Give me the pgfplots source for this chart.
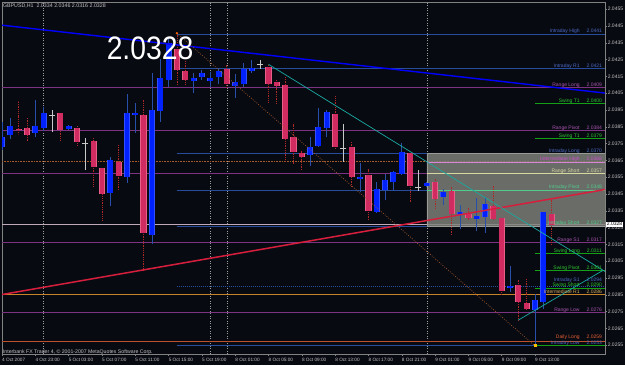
\documentclass[border=0pt]{standalone}
\usepackage{pgfplots}
\pgfplotsset{compat=1.18}
\usepackage{pgfplotstable}
\usepackage{fontspec}
\setmainfont{Liberation Sans}
\definecolor{bg}{RGB}{8,10,18}
\definecolor{bullc}{RGB}{0,34,255}
\definecolor{bullo}{RGB}{50,80,255}
\definecolor{bullw}{RGB}{40,80,170}
\definecolor{bearc}{RGB}{208,44,98}
\definecolor{bearo}{RGB}{232,95,135}
\definecolor{bearw}{RGB}{175,40,40}
\definecolor{dojic}{RGB}{200,200,200}
\definecolor{intra}{RGB}{40,76,156}
\definecolor{intratxt}{RGB}{75,105,195}
\definecolor{rangec}{RGB}{125,50,130}
\definecolor{rangetxt}{RGB}{170,85,175}
\definecolor{swing}{RGB}{20,160,20}
\definecolor{swingtxt}{RGB}{45,200,45}
\definecolor{magtxt}{RGB}{200,80,200}
\definecolor{khaki}{RGB}{215,215,160}
\definecolor{ipiv}{RGB}{80,205,140}
\definecolor{orangel}{RGB}{200,130,40}
\definecolor{orangetxt}{RGB}{215,175,90}
\definecolor{dailyc}{RGB}{190,80,45}
\definecolor{dailytxt}{RGB}{230,95,50}
\definecolor{tealc}{RGB}{25,170,160}
\definecolor{redl}{RGB}{215,30,60}
\definecolor{dotc}{RGB}{165,90,40}
\definecolor{boxc}{RGB}{128,130,124}
\definecolor{bidc}{RGB}{190,170,185}
\definecolor{tickc}{RGB}{195,195,195}
\definecolor{framec}{RGB}{130,130,130}

\pgfplotstableread{
i o h l c
0 2.03732 2.03879 2.03712 2.03791
1 2.03801 2.03901 2.03777 2.03855
4 2.03811 2.04010 2.03791 2.03855
5 2.03841 2.03970 2.03827 2.03930
8 2.03841 2.03861 2.03831 2.03855
13 2.03460 2.03672 2.03380 2.03652
15 2.03553 2.04043 2.03514 2.03930
16 2.03920 2.03993 2.03811 2.03934
18 2.03210 2.04169 2.03152 2.03954
19 2.03944 2.04252 2.03880 2.04142
20 2.04129 2.04386 2.04089 2.04351
23 2.04123 2.04172 2.04053 2.04142
24 2.04148 2.04188 2.04129 2.04174
25 2.04123 2.04178 2.04089 2.04142
26 2.04148 2.04202 2.04103 2.04182
28 2.04093 2.04163 2.04020 2.04115
29 2.04103 2.04232 2.04089 2.04192
30 2.04182 2.04248 2.04169 2.04204
37 2.03682 2.03788 2.03617 2.03732
38 2.03737 2.03960 2.03728 2.03851
39 2.03841 2.03950 2.03791 2.03940
43 2.03543 2.03633 2.03464 2.03553
45 2.03341 2.03520 2.03335 2.03480
46 2.03474 2.03569 2.03414 2.03533
47 2.03520 2.03587 2.03470 2.03579
48 2.03569 2.03752 2.03563 2.03702
51 2.03499 2.03521 2.03492 2.03514
53 2.03432 2.03484 2.03385 2.03462
55 2.03325 2.03385 2.03246 2.03345
57 2.03303 2.03424 2.03232 2.03319
58 2.03311 2.03430 2.03220 2.03390
61 2.02892 2.03023 2.02868 2.02904
64 2.02760 2.02859 2.02545 2.02819
65 2.02809 2.03345 2.02770 2.03345
}\bulldata

\pgfplotstableread{
i o h l c
2 2.03841 2.04004 2.03811 2.03831
3 2.03841 2.03901 2.03765 2.03801
7 2.03930 2.03932 2.03765 2.03831
9 2.03841 2.03855 2.03736 2.03761
11 2.03765 2.03788 2.03490 2.03609
12 2.03603 2.03603 2.03295 2.03448
14 2.03642 2.03742 2.03474 2.03559
17 2.03920 2.04010 2.02998 2.03220
21 2.04313 2.04407 2.04103 2.04192
22 2.04182 2.04242 2.04103 2.04133
27 2.04192 2.04218 2.04089 2.04103
32 2.04204 2.04222 2.03993 2.04103
33 2.04115 2.04129 2.03984 2.04093
34 2.04103 2.04148 2.03642 2.03782
35 2.03791 2.03871 2.03633 2.03702
36 2.03692 2.03708 2.03597 2.03672
40 2.03930 2.04033 2.03722 2.03732
42 2.03732 2.03765 2.03490 2.03553
44 2.03563 2.03603 2.03299 2.03351
49 2.03692 2.03696 2.03398 2.03499
52 2.03520 2.03543 2.03365 2.03420
54 2.03470 2.03493 2.03206 2.03331
56 2.03335 2.03371 2.03291 2.03311
59 2.03379 2.03504 2.03295 2.03301
60 2.03311 2.03311 2.02855 2.02874
62 2.02908 2.02938 2.02700 2.02809
63 2.02799 2.02948 2.02760 2.02765
66 2.03331 2.03414 2.03152 2.03266
}\beardata

\pgfplotstableread{
i o h l c
6 2.03920 2.03954 2.03821 2.03920
10 2.03752 2.03782 2.03593 2.03752
31 2.04222 2.04248 2.04198 2.04222
41 2.03722 2.03871 2.03642 2.03722
50 2.03490 2.03593 2.03470 2.03490
}\dojidata

\begin{document}
\begin{tikzpicture}
\fill[bg] (0,0) rectangle (625pt,365pt);
\useasboundingbox (0,0) rectangle (625pt,365pt);
\begin{axis}[
  at={(2pt,11pt)}, anchor=south west,
  scale only axis, width=603pt, height=352pt,
  xmin=0, xmax=72.4, ymin=2.02498, ymax=2.04593,
  clip mode=individual,
  axis line style={draw=framec, line width=0.6pt},
  xtick pos=bottom, ytick pos=right, yticklabel pos=right,
  tick align=outside, major tick length=2pt,
  tick style={draw=framec, line width=0.5pt},
  ytick={2.0255,2.0265,2.0275,2.0285,2.0295,2.0305,2.0315,2.0325,2.0335,2.0345,2.0355,2.0365,2.0375,2.0385,2.0395,2.0405,2.0415,2.0425,2.0435,2.0445,2.0455},
  scaled y ticks=false,
  yticklabel style={font=\fontsize{5}{6}\selectfont, text=tickc, inner sep=0.6pt,
    /pgf/number format/fixed, /pgf/number format/fixed zerofill,
    /pgf/number format/precision=4, /pgf/number format/1000 sep={},
    /pgf/number format/assume math mode=true},
  xtick={0,4,8,12,16,20,24,28,32,36,40,44,48,52,56,60,64},
  xticklabels={4 Oct 2007,4 Oct 23:00,5 Oct 03:00,5 Oct 07:00,5 Oct 11:00,5 Oct 15:00,5 Oct 19:00,8 Oct 01:00,8 Oct 05:00,8 Oct 09:00,8 Oct 13:00,8 Oct 17:00,8 Oct 21:00,9 Oct 01:00,9 Oct 05:00,9 Oct 09:00,9 Oct 13:00},
  xticklabel style={font=\fontsize{4.7}{5.5}\selectfont, text=tickc, anchor=north west, inner sep=0pt, yshift=-2.2pt},
]
% period separators
\addplot[draw=gray!75, dash pattern=on 1pt off 1.5pt, line width=0.5pt] coordinates {(5,2.02498) (5,2.04593)};
\addplot[draw=gray!75, dash pattern=on 1pt off 1.5pt, line width=0.5pt] coordinates {(25,2.02498) (25,2.04593)};
\addplot[draw=gray!75, dash pattern=on 1pt off 1.5pt, line width=0.5pt] coordinates {(27,2.02498) (27,2.04593)};
\addplot[draw=gray!75, dash pattern=on 1pt off 1.5pt, line width=0.5pt] coordinates {(51,2.02498) (51,2.04593)};

% horizontal levels
\addplot[draw=intra, line width=0.6pt] coordinates {(21,2.04402) (72.4,2.04402)};
\addplot[draw=intra, line width=0.6pt] coordinates {(21,2.04198) (72.4,2.04198)};
\addplot[draw=rangec, line width=0.6pt] coordinates {(0,2.04085) (72.4,2.04085)};
\addplot[draw=swing, line width=0.6pt] coordinates {(64,2.03990) (72.4,2.03990)};
\addplot[draw=rangec, line width=0.6pt] coordinates {(0,2.03829) (72.4,2.03829)};
\addplot[draw=swing, line width=0.6pt] coordinates {(64,2.03781) (72.4,2.03781)};
\addplot[draw=intra, line width=0.6pt] coordinates {(21,2.03692) (72.4,2.03692)};
\addplot[draw=dotc, dash pattern=on 0.8pt off 0.8pt, line width=0.6pt] coordinates {(0,2.03642) (72.4,2.03642)};
\addplot[draw=rangec, line width=0.6pt] coordinates {(0,2.03573) (72.4,2.03573)};
\addplot[draw=intra, line width=0.6pt] coordinates {(21,2.03474) (72.4,2.03474)};
\addplot[draw=bidc, line width=0.5pt] coordinates {(0,2.03271) (72.4,2.03271)};
\addplot[draw=intra, line width=0.6pt] coordinates {(21,2.03260) (72.4,2.03260)};
\addplot[draw=rangec, line width=0.6pt] coordinates {(0,2.03163) (72.4,2.03163)};
\addplot[draw=swing, line width=0.6pt] coordinates {(64,2.03097) (72.4,2.03097)};
\addplot[draw=swing, line width=0.6pt] coordinates {(64,2.02994) (72.4,2.02994)};
\addplot[draw=intra, dash pattern=on 1pt off 1pt, line width=0.6pt] coordinates {(21,2.02902) (72.4,2.02902)};
\addplot[draw=swing, line width=0.6pt] coordinates {(64,2.02889) (72.4,2.02889)};
\addplot[draw=orangel, line width=0.6pt] coordinates {(0,2.02855) (72.4,2.02855)};
\addplot[draw=rangec, line width=0.6pt] coordinates {(0,2.02746) (72.4,2.02746)};
\addplot[draw=dailyc, line width=0.6pt] coordinates {(0,2.02573) (72.4,2.02573)};
\addplot[draw=intra, line width=0.6pt] coordinates {(21,2.02549) (72.4,2.02549)};
\addplot[draw=swing, line width=0.6pt] coordinates {(64,2.02549) (72.4,2.02549)};

% shaded box
\addplot[fill=boxc, fill opacity=0.82, draw=boxc!80!white, line width=0.5pt] coordinates {(51,2.03260) (72.4,2.03260) (72.4,2.03690) (51,2.03690) (51,2.03260)};
% lighter level lines seen through the box
\addplot[draw=khaki, line width=0.5pt] coordinates {(51,2.03573) (72.4,2.03573)};
\addplot[draw=magtxt!70!white, line width=0.5pt] coordinates {(51,2.03642) (72.4,2.03642)};
\addplot[draw=ipiv, line width=0.5pt] coordinates {(51,2.03474) (72.4,2.03474)};

% wicks
\addplot[draw=none, error bars/.cd, y dir=both, y explicit, error mark=none,
  error bar style={draw=bullw, line width=0.8pt}]
  table[x=i, y expr={(\thisrow{h}+\thisrow{l})/2}, y error expr={(\thisrow{h}-\thisrow{l})/2}] {\bulldata};
\addplot[draw=none, error bars/.cd, y dir=both, y explicit, error mark=none,
  error bar style={draw=bearw, line width=0.8pt, dash pattern=on 1pt off 0.8pt}]
  table[x=i, y expr={(\thisrow{h}+\thisrow{l})/2}, y error expr={(\thisrow{h}-\thisrow{l})/2}] {\beardata};
\addplot[draw=none, error bars/.cd, y dir=both, y explicit, error mark=none,
  error bar style={draw=dojic, line width=0.8pt}]
  table[x=i, y expr={(\thisrow{h}+\thisrow{l})/2}, y error expr={(\thisrow{h}-\thisrow{l})/2}] {\dojidata};
% bodies
\addplot[draw=none, error bars/.cd, y dir=both, y explicit, error mark=none,
  error bar style={draw=bullo, line width=6pt}]
  table[x=i, y expr={(\thisrow{o}+\thisrow{c})/2}, y error expr={abs(\thisrow{c}-\thisrow{o})/2}] {\bulldata};
\addplot[draw=none, error bars/.cd, y dir=both, y explicit, error mark=none,
  error bar style={draw=bullc, line width=4.6pt}]
  table[x=i, y expr={(\thisrow{o}+\thisrow{c})/2}, y error expr={abs(\thisrow{c}-\thisrow{o})/2}] {\bulldata};
\addplot[draw=none, error bars/.cd, y dir=both, y explicit, error mark=none,
  error bar style={draw=bearo, line width=6.2pt}]
  table[x=i, y expr={(\thisrow{o}+\thisrow{c})/2}, y error expr={abs(\thisrow{c}-\thisrow{o})/2}] {\beardata};
\addplot[draw=none, error bars/.cd, y dir=both, y explicit, error mark=none,
  error bar style={draw=bearc, line width=4.8pt}]
  table[x=i, y expr={(\thisrow{o}+\thisrow{c})/2}, y error expr={abs(\thisrow{c}-\thisrow{o})/2}] {\beardata};
\addplot[only marks, mark=-, mark size=3pt, mark options={draw=dojic, line width=0.8pt}] table[x=i, y=o] {\dojidata};

% trend lines
\addplot[draw=blue, line width=1.4pt] coordinates {(0,2.04455) (72.4,2.04051)};
\addplot[draw=redl, line width=1.5pt] coordinates {(0,2.02852) (72.4,2.03477)};
\addplot[draw=tealc, line width=0.7pt] coordinates {(32,2.04222) (72.4,2.02989)};
\addplot[draw=tealc, line width=0.7pt] coordinates {(62,2.02700) (72.1,2.02994)};
\addplot[draw=dotc, dash pattern=on 0.8pt off 1.6pt, line width=0.7pt] coordinates {(21,2.04407) (64,2.02546)};
\addplot[only marks, mark=*, mark size=0.9pt, color=orange!80!red] coordinates {(21,2.04407)};
\addplot[only marks, mark=square*, mark size=0.9pt, color=orange!50!yellow] coordinates {(64,2.02549)};

% level labels
\begin{scope}[every node/.style={anchor=base east, font=\fontsize{5}{6}\selectfont, inner sep=0pt, yshift=1.2pt}]
\node[text=intratxt] at (axis cs:72.05,2.04402) {Intraday High\hspace{7pt}2.0441};
\node[text=intratxt] at (axis cs:72.05,2.04198) {Intraday R1\hspace{7pt}2.0421};
\node[text=rangetxt] at (axis cs:72.05,2.04085) {Range Long\hspace{7pt}2.0409};
\node[text=swingtxt] at (axis cs:72.05,2.03990) {Swing T1\hspace{7pt}2.0400};
\node[text=rangetxt] at (axis cs:72.05,2.03829) {Range Pivot\hspace{7pt}2.0384};
\node[text=swingtxt] at (axis cs:72.05,2.03781) {Swing T1\hspace{7pt}2.0379};
\node[text=intratxt] at (axis cs:72.05,2.03692) {Intraday Long\hspace{7pt}2.0370};
\node[text=magtxt] at (axis cs:72.05,2.03642) {Intermediate High\hspace{7pt}2.0368};
\node[text=khaki] at (axis cs:72.05,2.03573) {Range Short\hspace{7pt}2.0357};
\node[text=ipiv] at (axis cs:72.05,2.03474) {Intraday Pivot\hspace{7pt}2.0348};
\node[text=ipiv] at (axis cs:72.05,2.03260) {Intraday Short\hspace{7pt}2.0327};
\node[text=rangetxt] at (axis cs:72.05,2.03163) {Range S1\hspace{7pt}2.0317};
\node[text=swingtxt] at (axis cs:72.05,2.03097) {Swing Long\hspace{7pt}2.0311};
\node[text=swingtxt] at (axis cs:72.05,2.02994) {Swing Pivot\hspace{7pt}2.0301};
\node[text=intratxt, yshift=3.4pt] at (axis cs:72.05,2.02902) {Intraday S1\hspace{7pt}2.0294};
\node[text=swingtxt, yshift=0.6pt] at (axis cs:72.05,2.02889) {Swing Short\hspace{7pt}2.0290};
\node[text=orangetxt, yshift=-0.3pt] at (axis cs:72.05,2.02855) {Intermediate R1\hspace{7pt}2.0286};
\node[text=rangetxt] at (axis cs:72.05,2.02746) {Range Low\hspace{7pt}2.0276};
\node[text=dailytxt, yshift=2.2pt] at (axis cs:72.05,2.02573) {Daily Long\hspace{7pt}2.0259};
\node[text=intratxt, yshift=-0.6pt] at (axis cs:72.05,2.02549) {Intraday Low\hspace{7pt}2.0253};
\end{scope}

% texts
\node[font=\fontsize{32.5}{34}\selectfont, text=white, xscale=0.87, inner sep=0pt] at (axis cs:17.77,2.04316) {2.0328};
\node[anchor=north west, font=\fontsize{5.3}{6}\selectfont, text=tickc, inner sep=0pt, xshift=0.8pt, yshift=-1.4pt] at (rel axis cs:0,1) {GBPUSD,H1\ \ 2.0334 2.0346 2.0316 2.0328};
\node[anchor=base west, font=\fontsize{5.2}{6}\selectfont, text=tickc, inner sep=0pt, xshift=0.8pt, yshift=1pt] at (rel axis cs:0,0) {Interbank FX Trader 4, © 2001-2007 MetaQuotes Software Corp.};
\node[anchor=west, fill=white, text=black, font=\fontsize{5}{6}\selectfont, inner sep=0.7pt, xshift=1pt] at (axis cs:72.4,2.03271) {2.0328};
\end{axis}
\end{tikzpicture}
\end{document}
